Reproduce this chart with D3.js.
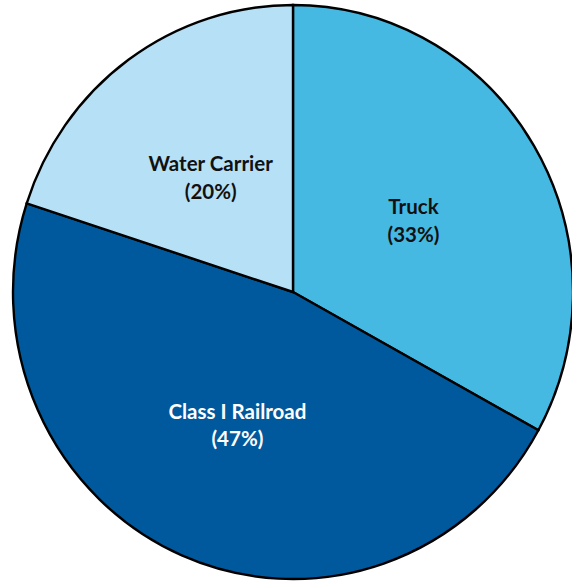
<!DOCTYPE html>
<html>
<head>
<meta charset="utf-8">
<script src="https://cdn.jsdelivr.net/npm/d3@7"></script>
<style>
  body { margin: 0; background: #fff; }
</style>
</head>
<body>
<div id="chart"></div>
<script>
const WIDTH = 572;
const HEIGHT = 581;
const CX = 293;
const CY = 292;
const RADIUS = 280;
const Y_STRETCH = 287 / 280;

const categories = ['Truck', 'Class I Railroad', 'Water Carrier'];
const shares = [33, 47, 20];
const colors = ['#45B9E1', '#00599D', '#B6E0F6'];
const textColors = ['#111', '#fff', '#111'];

const data = categories.map((c, i) => ({ name: c, value: shares[i] }));

var svg = d3.select('#chart')
    .append('svg')
    .attr('width', WIDTH)
    .attr('height', HEIGHT)

var pie = d3.pie().sort(null).value(d => d.value);
var arc = d3.arc().innerRadius(0).outerRadius(RADIUS);
var arcs = pie(data);

// slices (slightly taller than wide, like the original)
svg.append('g')
    .attr('transform', `translate(${CX},${CY}) scale(1,${Y_STRETCH})`)
    .selectAll('path')
    .data(arcs)
    .enter()
    .append('path')
    .attr('d', arc)
    .attr('fill', (d, i) => colors[i])
    .attr('stroke', '#000')
    .attr('stroke-width', 2.4)
    .attr('vector-effect', 'non-scaling-stroke')
    .attr('stroke-linejoin', 'miter')

// labels
var labels = svg.append('g')
    .attr('transform', `translate(${CX},${CY})`)
    .selectAll('text')
    .data(arcs)
    .enter()
    .append('text')
    .attr('transform', d => {
        const [x, y] = arc.centroid(d);
        return `translate(${x},${y * Y_STRETCH - 3})`;
    })
    .attr('text-anchor', 'middle')
    .attr('font-family', 'Lato, "Open Sans", sans-serif')
    .attr('font-weight', 'bold')
    .attr('font-size', 20.5)
    .attr('fill', (d, i) => textColors[i])

labels.append('tspan')
    .attr('x', 0)
    .attr('dy', '-0.1em')
    .text(d => d.data.name)

labels.append('tspan')
    .attr('x', 0)
    .attr('dy', '1.35em')
    .text(d => `(${d.data.value}%)`)
</script>
</body>
</html>
